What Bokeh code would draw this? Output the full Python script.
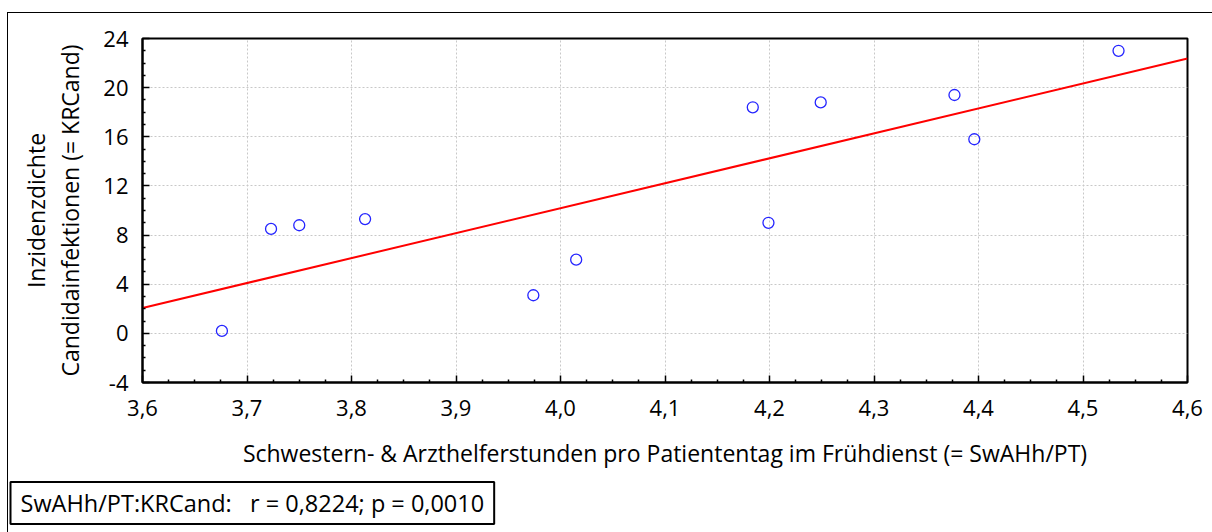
import numpy as np
from bokeh.plotting import figure
from bokeh.models import (Range1d, FixedTicker, CustomJSTickFormatter, Title,
                          InlineStyleSheet)
from bokeh.embed import file_html
from bokeh.resources import INLINE

# ---- data ----
swahh_pt = [3.676, 3.723, 3.750, 3.813, 3.974, 4.015, 4.184, 4.199, 4.249, 4.377, 4.396, 4.534]
krcand = [0.2, 8.5, 8.8, 9.3, 3.1, 6.0, 18.4, 9.0, 18.8, 19.4, 15.8, 23.0]
x_ticks = [3.6, 3.7, 3.8, 3.9, 4.0, 4.1, 4.2, 4.3, 4.4, 4.5, 4.6]
y_ticks = [-4, 0, 4, 8, 12, 16, 20, 24]
x_label = "Schwestern- & Arzthelferstunden pro Patiententag im Frühdienst (= SwAHh/PT)"
y_label = "Inzidenzdichte\nCandidainfektionen (= KRCand)"
stat_text = "SwAHh/PT:KRCand:\u00a0\u00a0\u00a0r = 0,8224; p = 0,0010"

FONT = "Open Sans"


def minor_between(ticks, n=4):
    out = []
    for a, b in zip(ticks[:-1], ticks[1:]):
        step = (b - a) / n
        out.extend(a + step * k for k in range(1, n))
    return out


frame_css = """
:host::after {
  content: "";
  position: absolute;
  left: 7px; top: 12px; right: 0px; bottom: 0px;
  border-left: 1.5px solid black;
  border-top: 1.5px solid black;
  pointer-events: none;
}
"""

p = figure(width=1212, height=532, output_backend="svg", toolbar_location=None,
           x_range=Range1d(x_ticks[0], x_ticks[-1]), y_range=Range1d(y_ticks[0], y_ticks[-1]),
           min_border_left=142, min_border_right=25, min_border_top=38, min_border_bottom=150,
           stylesheets=[InlineStyleSheet(css=frame_css)])
p.background_fill_color = "white"
p.border_fill_color = "white"
p.outline_line_color = "black"
p.outline_line_width = 2

# axes
p.xaxis.ticker = FixedTicker(ticks=x_ticks, minor_ticks=minor_between(x_ticks))
p.yaxis.ticker = FixedTicker(ticks=y_ticks, minor_ticks=minor_between(y_ticks))
p.xaxis.formatter = CustomJSTickFormatter(code="return tick.toFixed(1).replace('.', ',');")
p.yaxis.formatter = CustomJSTickFormatter(code="return Math.round(tick).toString();")
for ax in (p.xaxis, p.yaxis):
    ax.axis_line_color = "black"
    ax.axis_line_width = 2
    ax.major_tick_in = 7
    ax.major_tick_out = 0
    ax.minor_tick_in = 3
    ax.minor_tick_out = 0
    ax.major_tick_line_color = "black"
    ax.minor_tick_line_color = "black"
    ax.major_tick_line_width = 1.5
    ax.minor_tick_line_width = 1.5
    ax.major_label_text_font = FONT
    ax.major_label_text_font_size = "22px"
    ax.major_label_text_color = "black"
    ax.axis_label_text_font = FONT
    ax.axis_label_text_font_size = "23px"
    ax.axis_label_text_font_style = "normal"
    ax.axis_label_text_color = "black"
p.xaxis.axis_label = x_label
p.yaxis.axis_label = y_label
p.xaxis.major_label_standoff = 17
p.xaxis.axis_label_standoff = 18
p.yaxis.major_label_standoff = 14
p.yaxis.axis_label_standoff = 14
p.yaxis.axis_label_text_line_height = 1.08

# grid
for g in (p.xgrid, p.ygrid):
    g.grid_line_color = "#c8c8c8"
    g.grid_line_dash = "2 2"
    g.grid_line_width = 1

# regression line from the data
slope, intercept = np.polyfit(swahh_pt, krcand, 1)
fit_x = np.array([x_ticks[0], x_ticks[-1]])
fit_y = slope * fit_x + intercept
p.line(fit_x, fit_y, line_color="red", line_width=2)

# points
p.scatter(swahh_pt, krcand, marker="circle", size=11, fill_color=None,
          line_color="#2525ff", line_width=1.3)

# stat box as a title below the axis
p.add_layout(Title(text=stat_text, align="left", offset=-132, standoff=17,
                   padding=dict(x=10, y=5),
                   text_font=FONT, text_font_size="23.5px", text_font_style="normal",
                   text_color="black", border_line_color="black", border_line_width=2,
                   background_fill_color="white"), "below")

open("out.html", "w").write(file_html(p, INLINE))
